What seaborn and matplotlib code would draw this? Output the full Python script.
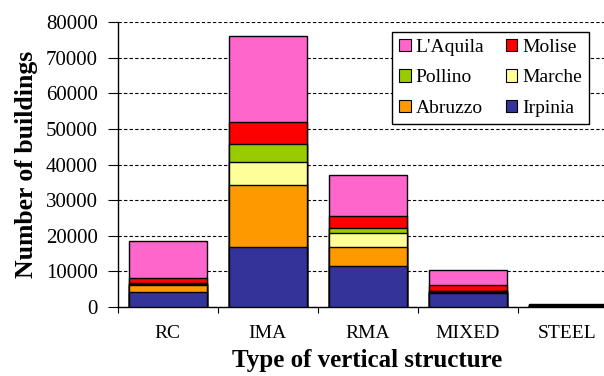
import matplotlib
matplotlib.use("Agg")
import matplotlib.pyplot as plt
from matplotlib.patches import Patch
import seaborn as sns
import numpy as np

# Buildings per type of vertical structure, split by seismic event
categories = ["RC", "IMA", "RMA", "MIXED", "STEEL"]
irpinia  = [4000, 16900, 11500, 3750, 250]
abruzzo  = [2100, 17400, 5350, 450, 100]
marche   = [300, 6300, 3950, 150, 50]
pollino  = [400, 5050, 1200, 150, 30]
molise   = [1150, 6250, 3500, 1600, 50]
laquila  = [10450, 24200, 11500, 4200, 150]

series = [
    ("Irpinia", irpinia, "#333399"),
    ("Abruzzo", abruzzo, "#FF9900"),
    ("Marche", marche, "#FFFF99"),
    ("Pollino", pollino, "#99CC00"),
    ("Molise", molise, "#FF0000"),
    ("L'Aquila", laquila, "#FF66CC"),
]

yticks = [0, 10000, 20000, 30000, 40000, 50000, 60000, 70000, 80000]

sns.set_theme(style="white")
plt.rcParams["font.family"] = ["Liberation Serif", "DejaVu Serif"]
plt.rcParams.update({"text.color": "black", "axes.labelcolor": "black",
                     "xtick.color": "black", "ytick.color": "black",
                     "xtick.labelcolor": "black", "ytick.labelcolor": "black"})

fig = plt.figure(figsize=(6.04, 3.76), dpi=100)
ax = fig.add_axes([117.5 / 604, 69.3 / 376, 500 / 604, 284.4 / 376])

# cumulative stacks, drawn from the tallest down so each layer shows through
cums = np.cumsum([np.array(v, dtype=float) for _, v, _ in series], axis=0)
for (name, _, color), cum in reversed(list(zip(series, cums))):
    sns.barplot(x=categories, y=cum, color=color, saturation=1,
                edgecolor="black", linewidth=1.0, width=0.78, ax=ax, zorder=3)

ax.set_xlim(-0.5, len(categories) - 0.5)
ax.set_ylim(0, 80000)
ax.set_yticks(yticks)
ax.set_yticklabels([str(t) for t in yticks], fontsize=15)
ax.yaxis.grid(True, color="black", linestyle=(0, (3, 2)), linewidth=0.8, zorder=0)
ax.set_axisbelow(True)

ax.set_xticks(range(len(categories)))
ax.set_xticklabels(categories, fontsize=14)
ax.set_xticks(np.arange(-0.5, len(categories)), minor=True)
ax.tick_params(axis="x", which="major", length=0, pad=13)
ax.tick_params(axis="x", which="minor", length=4, width=0.8, direction="out",
               color="black", bottom=True)
ax.tick_params(axis="y", which="major", length=7, width=0.8, direction="out",
               color="black", left=True, pad=7)

for s in ["top", "right"]:
    ax.spines[s].set_visible(False)
for s in ["left", "bottom"]:
    ax.spines[s].set_color("black")
    ax.spines[s].set_linewidth(1.0)

ax.set_xlabel("Type of vertical structure", fontsize=18, fontweight="bold",
              labelpad=5)
ax.set_ylabel("Number of buildings", fontsize=18.5, fontweight="bold", labelpad=6)

colors = {n: c for n, _, c in series}
order = ["L'Aquila", "Pollino", "Abruzzo", "Molise", "Marche", "Irpinia"]
handles = [Patch(facecolor=colors[n], edgecolor="black", linewidth=0.8, label=n)
           for n in order]
leg = ax.legend(handles=handles, ncol=2, loc="upper left",
                bbox_to_anchor=((392 - 117.5) / 500, (306.7 - 32) / 284.4),
                fontsize=14, frameon=True, fancybox=False, framealpha=1,
                edgecolor="black", handlelength=0.6, handleheight=0.6,
                handletextpad=0.25, columnspacing=1.1, labelspacing=0.68,
                borderpad=0.36, borderaxespad=0)
leg.get_frame().set_linewidth(1.0)

fig.savefig("out.png", dpi=100)
